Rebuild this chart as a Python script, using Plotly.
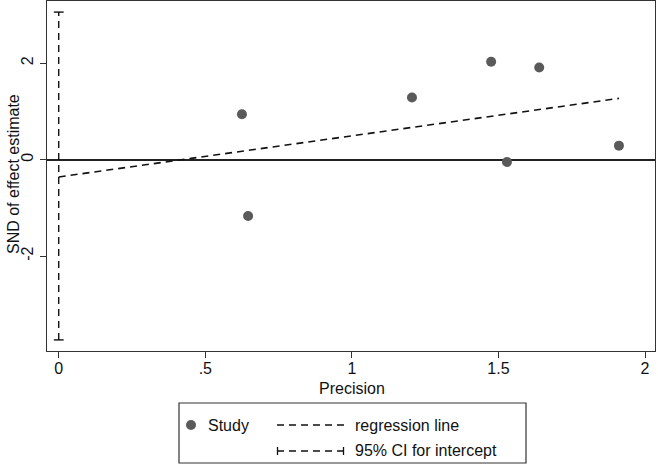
import plotly.graph_objects as go

# Data
precision = [0.625, 0.646, 1.205, 1.475, 1.639, 1.529, 1.911]
snd = [0.94, -1.17, 1.29, 2.03, 1.91, -0.05, 0.29]
intercept = -0.36
slope = 0.853
ci_low, ci_high = -3.74, 3.06
x_ticks = [0, 0.5, 1, 1.5, 2]
x_tick_labels = ["0", ".5", "1", "1.5", "2"]
y_ticks = [-2, 0, 2]
y_tick_labels = ["-2", "0", "2"]

W, H = 658, 466
L, R, T, B = 47, 3, 1, 115
FONT = "Liberation Sans, Arial, sans-serif"
pw, ph = W - L - R, H - T - B

def px(x):
    return (x - L) / pw

def py(y):
    return (H - B - y) / ph

fig = go.Figure()

x_end = max(precision)
fig.add_trace(go.Scatter(
    x=[0, x_end], y=[intercept, intercept + slope * x_end],
    mode="lines", line=dict(color="#111111", width=1.6, dash="7px,5px"),
    showlegend=False, hoverinfo="skip"))

fig.add_trace(go.Scatter(
    x=[0, 0], y=[ci_low, ci_high], mode="lines",
    line=dict(color="#111111", width=1.4, dash="7px,5px"),
    showlegend=False, hoverinfo="skip"))
fig.add_trace(go.Scatter(
    x=[0, 0], y=[ci_low, ci_high], mode="markers",
    marker=dict(symbol="line-ew", size=7, line=dict(color="#111111", width=1.4)),
    showlegend=False, hoverinfo="skip"))

fig.add_trace(go.Scatter(
    x=precision, y=snd, mode="markers",
    marker=dict(color="#5a5a5a", size=10, line=dict(width=0)),
    showlegend=False))

axis_common = dict(
    showline=True, linecolor="#333333", linewidth=1.3, mirror=True,
    showgrid=False, ticks="outside", ticklen=6, tickcolor="#333333",
    tickwidth=1.2, tickfont=dict(family=FONT, size=16, color="#111111"),
    automargin=False,
)

fig.update_xaxes(range=[-0.040, 2.034], tickvals=x_ticks, ticktext=x_tick_labels,
                 zeroline=False, ticklabelstandoff=-3, **axis_common)
fig.update_yaxes(range=[-3.97, 3.29], tickvals=y_ticks, ticktext=y_tick_labels,
                 tickangle=-90, zeroline=True, zerolinecolor="#222222",
                 zerolinewidth=1.5, **axis_common)

shapes = []
annotations = []

# Axis titles
annotations.append(dict(text="Precision", xref="paper", yref="paper",
                        x=px(352), y=py(388), xanchor="center", yanchor="middle",
                        showarrow=False,
                        font=dict(family=FONT, size=16, color="#111111")))
annotations.append(dict(text="SND of effect estimate", xref="paper", yref="paper",
                        x=px(13), y=py(174), xanchor="center", yanchor="middle",
                        showarrow=False, textangle=-90,
                        font=dict(family=FONT, size=16, color="#111111")))

# Legend box
shapes.append(dict(type="rect", xref="paper", yref="paper",
                   x0=px(179), x1=px(526), y0=py(403), y1=py(463),
                   line=dict(color="#333333", width=1.2), fillcolor="white"))
row1, row2 = 425, 451
shapes.append(dict(type="circle", xref="paper", yref="paper",
                   xsizemode="pixel", ysizemode="pixel",
                   xanchor=px(191), yanchor=py(row1),
                   x0=-5, x1=5, y0=-5, y1=5,
                   fillcolor="#5a5a5a", line=dict(width=0)))
shapes.append(dict(type="line", xref="paper", yref="paper",
                   x0=px(277), x1=px(344), y0=py(row1), y1=py(row1),
                   line=dict(color="#111111", width=1.3, dash="7px,5px")))
shapes.append(dict(type="line", xref="paper", yref="paper",
                   x0=px(277), x1=px(344), y0=py(row2), y1=py(row2),
                   line=dict(color="#111111", width=1.3, dash="7px,5px")))
shapes.append(dict(type="line", xref="paper", yref="paper",
                   x0=px(277.5), x1=px(277.5), y0=py(row2 - 4), y1=py(row2 + 4),
                   line=dict(color="#111111", width=1.3)))
shapes.append(dict(type="line", xref="paper", yref="paper",
                   x0=px(343.5), x1=px(343.5), y0=py(row2 - 4), y1=py(row2 + 4),
                   line=dict(color="#111111", width=1.3)))
for txt, xx, yy in [("Study", 206, row1), ("regression line", 353, row1),
                    ("95% CI for intercept", 353, row2)]:
    annotations.append(dict(text=txt, xref="paper", yref="paper",
                            x=px(xx), y=py(yy), xanchor="left", yanchor="middle",
                            showarrow=False,
                            font=dict(family=FONT, size=16, color="#111111")))

fig.update_layout(
    width=W, height=H, margin=dict(l=L, r=R, t=T, b=B, pad=0),
    paper_bgcolor="white", plot_bgcolor="white",
    shapes=shapes, annotations=annotations, showlegend=False,
)

fig.write_html("out.html", config={"displayModeBar": False},
               post_script="document.body.style.margin='0';document.body.style.padding='0';")
